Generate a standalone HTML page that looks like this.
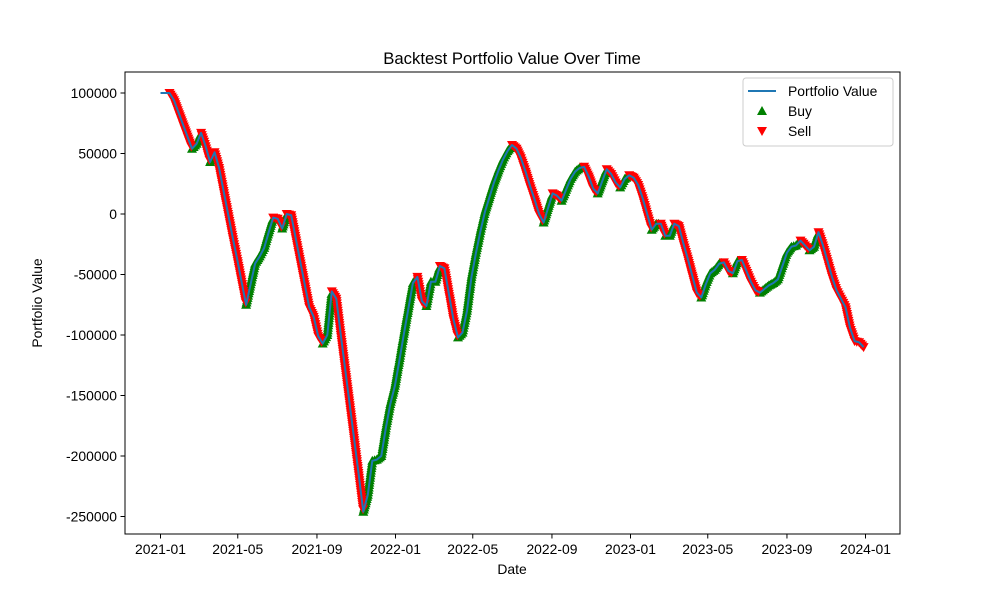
<!DOCTYPE html>
<html><head><meta charset="utf-8"><style>
body{margin:0;background:#fff}
svg text{font-family:"Liberation Sans","DejaVu Sans",sans-serif;fill:#000}
</style></head><body>
<svg id="chart" width="1000" height="600" viewBox="0 0 1000 600">
<rect width="1000" height="600" fill="#fff"/>
<g id="marks"></g>
<rect x="125" y="72" width="775" height="462" fill="none" stroke="#000" stroke-width="1"/>
<g id="xticks"></g>
<g id="yticks"></g>
<text x="512" y="64" font-size="16.7" text-anchor="middle">Backtest Portfolio Value Over Time</text>
<text x="512" y="574" font-size="13.9" text-anchor="middle">Date</text>
<text x="42" y="303" font-size="13.9" text-anchor="middle" transform="rotate(-90 42 303)">Portfolio Value</text>
<g>
<rect x="743" y="78" width="150" height="68" rx="3" fill="#fff" fill-opacity="0.8" stroke="#ccc"/>
<g><line x1="748" y1="91" x2="776" y2="91" stroke="#1f77b4" stroke-width="2"/><text x="788" y="96" font-size="13.9">Portfolio Value</text></g>
<g><polygon points="762,106 767,115 757,115" fill="green"/><text x="788" y="116" font-size="13.9">Buy</text></g>
<g><polygon points="757,127 767,127 762,136" fill="red"/><text x="788" y="136" font-size="13.9">Sell</text></g>
</g>
</svg>
<script>
const startDate = "2021-01-01";
const weekValuesK = [100,100,100,94,84,74,64,54,58,67,56,43,51,38,19,0,-19,-37,-56,-75,-58,-41,-35,-28,-15,-3,-4,-12,0,-1,-20,-39,-58,-77,-85,-101,-107,-100,-64,-70,-100,-129,-158,-187,-216,-246,-232,-204,-203,-200,-177,-157,-142,-121,-99,-78,-57,-52,-72,-76,-56,-56,-43,-45,-66,-87,-102,-98,-80,-52,-32,-14,2,14,26,36,45,52,57,54,46,35,23,12,0,-7,5,17,15,11,20,29,35,38,39,31,21,17,27,37,33,26,22,29,32,30,24,13,0,-13,-8,-8,-18,-18,-8,-10,-24,-37,-51,-65,-69,-58,-49,-46,-41,-40,-47,-49,-39,-38,-47,-56,-63,-65,-62,-59,-57,-54,-43,-32,-27,-26,-22,-26,-30,-27,-15,-26,-39,-52,-63,-70,-77,-94,-105,-106,-110];
const markerStartWeek = 2;
const xTickLabels = ["2021-01","2021-05","2021-09","2022-01","2022-05","2022-09","2023-01","2023-05","2023-09","2024-01"];
const yTickValues = [100000,50000,0,-50000,-100000,-150000,-200000,-250000];

const NS="http://www.w3.org/2000/svg";
const t0=Date.parse(startDate+"T00:00:00Z");
const DAY=86400000;
function xScale(ms){return 160.5+(ms-t0)/DAY*(865.5-160.5)/1095;}
function yScale(v){return 214+(-v)*(60.5/50000);}
function mk(tag,attrs,parent){const e=document.createElementNS(NS,tag);for(const k in attrs)e.setAttribute(k,attrs[k]);parent.appendChild(e);return e;}

const xt=document.getElementById('xticks');
xTickLabels.forEach(l=>{
  const x=xScale(Date.parse(l+"-01T00:00:00Z"));
  const g=mk('g',{},xt);
  
  
  mk('line',{x1:x,y1:534,x2:x,y2:538.5,stroke:'#000'},g);
  const t=mk('text',{x:x,y:554,'font-size':13.9,'text-anchor':'middle'},g);t.textContent=l;
});
const yt=document.getElementById('yticks');
yTickValues.forEach(v=>{
  const y=yScale(v);
  const g=mk('g',{},yt);
  
  
  mk('line',{x1:120.5,y1:y,x2:125,y2:y,stroke:'#000'},g);
  const t=mk('text',{x:117,y:y+5,'font-size':13.9,'text-anchor':'end'},g);t.textContent=String(v);
});

const pts=weekValuesK.map((k,i)=>[xScale(t0+i*7*DAY),yScale(k*1000)]);
const marks=document.getElementById('marks');
const buyG=mk('g',{fill:'green'},marks);


const sellG=mk('g',{fill:'red'},marks);


let buyD="",sellD="";
const H=5;
function tri(x,y,up){return up?`M${x.toFixed(1)},${(y-H).toFixed(1)}L${(x+H).toFixed(1)},${(y+H*0.8).toFixed(1)}L${(x-H).toFixed(1)},${(y+H*0.8).toFixed(1)}Z`:`M${(x-H).toFixed(1)},${(y-H*0.8).toFixed(1)}L${(x+H).toFixed(1)},${(y-H*0.8).toFixed(1)}L${x.toFixed(1)},${(y+H).toFixed(1)}Z`;}
for(let i=markerStartWeek;i<pts.length-1;i++){
  const [x1,y1]=pts[i],[x2,y2]=pts[i+1];
  const up=weekValuesK[i+1]>=weekValuesK[i];
  const len=Math.hypot(x2-x1,y2-y1);
  const n=Math.max(1,Math.ceil(len/2.5));
  for(let s=0;s<n;s++){
    const f=s/n;const x=x1+(x2-x1)*f,y=y1+(y2-y1)*f;
    if(up)buyD+=tri(x,y,true);else sellD+=tri(x,y,false);
  }
}
{const [x,y]=pts[pts.length-1];sellD+=tri(x,y,false);}
mk('path',{d:buyD},buyG);
mk('path',{d:sellD},sellG);
const line=mk('polyline',{points:pts.map(p=>p[0].toFixed(1)+','+p[1].toFixed(1)).join(' '),fill:'none',stroke:'#1f77b4','stroke-width':2,'stroke-linejoin':'round'},marks);


</script>
</body></html>
